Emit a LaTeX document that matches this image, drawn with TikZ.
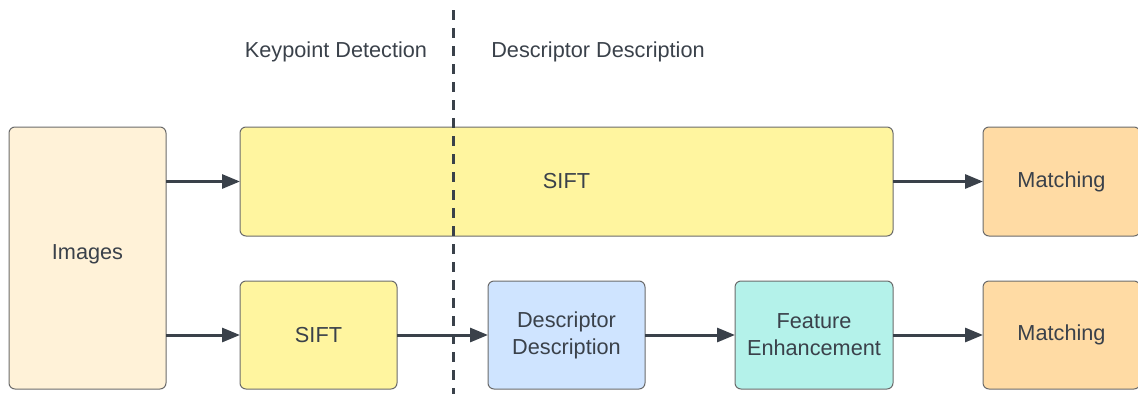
\documentclass[tikz,border=0pt]{standalone}
\usepackage{fontspec}
\setmainfont{Liberation Sans}
\usetikzlibrary{arrows.meta}
\definecolor{ink}{HTML}{3A414A}
\definecolor{edge}{HTML}{6B6B6B}
\definecolor{cream}{HTML}{FFF2D8}
\definecolor{lemon}{HTML}{FFF59F}
\definecolor{peach}{HTML}{FFDBA4}
\definecolor{skyblue}{HTML}{CFE4FF}
\definecolor{mint}{HTML}{B4F2EA}
\tikzset{
  stage/.style={draw=edge, line width=1pt, rounded corners=6pt, inner sep=0pt, outer sep=0pt,
    text=ink, align=center, font=\fontsize{21.7}{27}\selectfont},
  heading/.style={text=ink, font=\fontsize{21.7}{27}\selectfont, inner sep=0pt},
  flow/.style={draw=ink, line width=3pt, -{Triangle[length=18pt,width=14pt]}},
  divider/.style={draw=ink, line width=3pt, dash pattern=on 10pt off 8pt}
}
\begin{document}
\begin{tikzpicture}[x=1pt,y=-1pt]
\useasboundingbox (0,0) rectangle (1138,394);
% input images
\node[stage, fill=cream, minimum width=157pt, minimum height=262pt] (img) at (87.5,258) {};
\node[text=ink, font=\fontsize{21.7}{27}\selectfont, inner sep=0pt] (imgText) at (87.5,254) {Images};
% upper pipeline: plain SIFT
\node[stage, fill=lemon, minimum width=653pt, minimum height=109pt] (siftA) at (566.5,181.5) {SIFT};
\node[stage, fill=peach, minimum width=157pt, minimum height=109pt] (matchA) at (1061.5,181.5) {Matching};
% lower pipeline: SIFT keypoints, learned descriptors, enhancement
\node[stage, fill=lemon, minimum width=157pt, minimum height=108pt] (siftB) at (318.5,335) {SIFT};
\node[stage, fill=skyblue, minimum width=157pt, minimum height=108pt] (desc) at (566.5,335) {Descriptor\\Description};
\node[stage, fill=mint, minimum width=158pt, minimum height=108pt] (enh) at (814,335) {Feature\\Enhancement};
\node[stage, fill=peach, minimum width=157pt, minimum height=108pt] (matchB) at (1061.5,335) {Matching};
% stage boundary
\coordinate (divTop) at (453,10);
\coordinate (divBot) at (453,394);
\draw[divider] (divTop) -- (divBot);
\node[heading] (kpLabel) at (336,51.5) {Keypoint Detection};
\node[heading] (ddLabel) at (598,51.5) {Descriptor Description};
% connectors
\draw[flow] (img.east |- siftA.west) -- (siftA.west);
\draw[flow] (siftA.east) -- (matchA.west);
\draw[flow] (img.east |- siftB.west) -- (siftB.west);
\draw[flow] (siftB.east) -- (desc.west);
\draw[flow] (desc.east) -- (enh.west);
\draw[flow] (enh.east) -- (matchB.west);
\end{tikzpicture}
\end{document}
